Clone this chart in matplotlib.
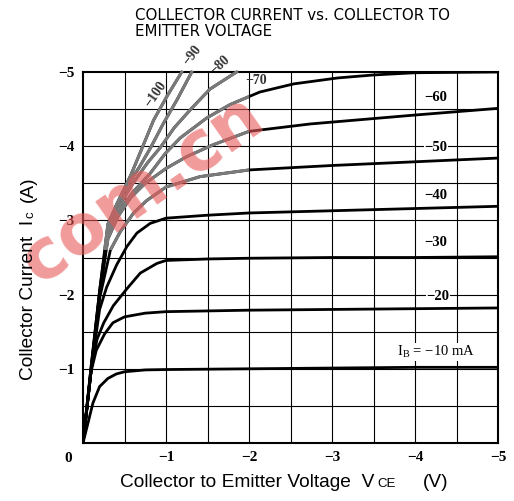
import numpy as np
import matplotlib
matplotlib.use("Agg")
import matplotlib.pyplot as plt
from matplotlib.patches import Rectangle

# curves (V_CE in V, I_C in A), one pair per base current
v10 = [0, -0.06, -0.12, -0.2, -0.3, -0.4, -0.5, -0.75, -1, -2, -3, -4, -5]
i10 = [0, -0.27, -0.54, -0.76, -0.87, -0.93, -0.96, -0.985, -0.99, -1.0, -1.01, -1.02, -1.02]

v20 = [0, -0.05, -0.09, -0.16, -0.26, -0.36, -0.5, -0.75, -1, -2, -3, -4, -5]
i20 = [0, -0.5, -0.93, -1.25, -1.47, -1.62, -1.7, -1.75, -1.77, -1.79, -1.8, -1.81, -1.82]

v30 = [0, -0.1, -0.17, -0.25, -0.365, -0.53, -0.69, -0.89, -1.0, -1.5, -2, -3, -4, -5]
i30 = [0, -1.0, -1.4, -1.62, -1.85, -2.08, -2.29, -2.42, -2.46, -2.48, -2.49, -2.5, -2.5, -2.51]

v40 = [0, -0.1, -0.2, -0.285, -0.405, -0.53, -0.65, -0.81, -1.0, -1.5, -2, -3, -4, -5]
i40 = [0, -1.0, -1.8, -2.1, -2.4, -2.65, -2.83, -2.96, -3.03, -3.07, -3.1, -3.13, -3.16, -3.19]

v50 = [0, -0.1, -0.2, -0.33, -0.45, -0.61, -0.77, -1.0, -1.41, -2, -3, -4, -5]
i50 = [0, -1.0, -1.95, -2.6, -2.85, -3.1, -3.27, -3.45, -3.59, -3.68, -3.74, -3.79, -3.84]

v60 = [0, -0.1, -0.2, -0.3, -0.42, -0.57, -0.75, -1.0, -1.25, -1.57, -2, -2.74, -4, -5]
i60 = [0, -1.0, -2.0, -2.75, -3.05, -3.3, -3.5, -3.7, -3.86, -4.02, -4.2, -4.3, -4.42, -4.51]

v70 = [0, -0.1, -0.2, -0.3, -0.45, -0.6, -0.8, -0.99, -1.17, -1.49, -1.77, -2.13, -2.54, -3.07, -3.5, -4, -5]
i70 = [0, -1.0, -2.0, -2.8, -3.15, -3.38, -3.62, -3.9, -4.11, -4.38, -4.56, -4.73, -4.84, -4.92, -4.96, -4.99, -5.0]

v80 = [0, -0.1, -0.2, -0.3, -0.45, -0.6, -0.78, -0.93, -1.1, -1.3, -1.53, -1.85]
i80 = [0, -1.0, -2.0, -2.85, -3.22, -3.5, -3.78, -3.98, -4.25, -4.5, -4.77, -5.0]

v90 = [0, -0.1, -0.2, -0.3, -0.4, -0.55, -0.68, -0.81, -0.97, -1.13, -1.31]
i90 = [0, -1.05, -2.05, -2.9, -3.2, -3.5, -3.72, -3.97, -4.31, -4.62, -5.0]

v100 = [0, -0.1, -0.2, -0.3, -0.42, -0.58, -0.71, -0.85, -1.01, -1.19]
i100 = [0, -1.05, -2.05, -2.95, -3.25, -3.62, -3.97, -4.35, -4.67, -5.0]

curves = [(v10, i10), (v20, i20), (v30, i30), (v40, i40), (v50, i50),
          (v60, i60), (v70, i70), (v80, i80), (v90, i90), (v100, i100)]

# curve labels: text, V, I
right_labels = ["\u221260", "\u221250", "\u221240", "\u221230", "\u221220"]
right_lab_v = [-4.25, -4.25, -4.25, -4.25, -4.28]
right_lab_i = [-4.65, -3.98, -3.33, -2.70, -1.98]

top_labels = ["\u221270", "\u221280", "\u221290", "\u2212100"]
top_lab_v = [-2.08, -1.65, -1.31, -0.87]
top_lab_i = [-4.88, -5.09, -5.22, -4.70]
top_lab_rot = [0, 42, 52, 55]

xticks = [-1, -2, -3, -4, -5]
yticks = [-1, -2, -3, -4, -5]

W, H = 514, 501
fig = plt.figure(figsize=(W/100, H/100), dpi=100)
ax = fig.add_axes([83/W, 1-443/H, 415/W, 371/H])
r = fig.canvas.get_renderer()

serif = "Liberation Serif"

# grid every 0.5
for g in np.arange(-0.5, -5.0, -0.5):
    ax.axvline(g, color="black", lw=0.8, zorder=1)
    ax.axhline(g, color="black", lw=0.8, zorder=1)

# watermark
ax.text(-0.72, -3.42, "com.cn", color="#e85858", alpha=0.6, fontsize=50,
        fontweight="bold", family="DejaVu Sans", rotation=35,
        ha="center", va="center", zorder=4)

clip = Rectangle((-2.0, -5.3), 2.0, 2.7, transform=ax.transData)
for k, (v, i) in enumerate(curves):
    ax.plot(v, i, color="black", lw=2.0, zorder=3, solid_capstyle="round")
    if k >= 4:
        ln, = ax.plot(v, i, color="#7a7a7a", lw=2.2, zorder=3.5)
        ln.set_clip_path(clip)

bb = dict(facecolor="white", edgecolor="none", pad=0.5)
for t, x, y in zip(right_labels, right_lab_v, right_lab_i):
    ax.text(x, y, t, family=serif, fontweight="bold", fontsize=10.5,
            ha="center", va="center", bbox=bb, zorder=5)
ax.text(-4.25, -1.23, "I$_\\mathregular{B}$ = \u221210 mA",
        family=serif, fontsize=10.5, ha="center", va="center", bbox=bb, zorder=5)

for t, x, y, rot in zip(top_labels, top_lab_v, top_lab_i, top_lab_rot):
    ax.text(x, y, t, family=serif, fontweight="bold", fontsize=10, color="#333333",
            ha="center", va="center", rotation=rot, zorder=5, clip_on=False)

ax.set_xlim(0, -5)
ax.set_ylim(0, -5)
ax.set_xticks(xticks)
ax.set_yticks(yticks)
ax.set_xticklabels(["\u2212%d" % abs(t) for t in xticks], family=serif,
                   fontweight="bold", fontsize=11)
ax.set_yticklabels(["\u2212%d" % abs(t) for t in yticks], family=serif,
                   fontweight="bold", fontsize=11)
ax.tick_params(length=0, pad=6)
ax.annotate("0", xy=(0, 0), xytext=(-15, -15), textcoords="offset pixels",
            family=serif, fontweight="bold", fontsize=11, ha="center", va="center")
for s in ax.spines.values():
    s.set_linewidth(1.5)

# title, two lines
tt = dict(family="DejaVu Sans", fontsize=10.8, ha="left", va="baseline")
fig.text(135/W, 1-20/H, "COLLECTOR CURRENT vs. COLLECTOR TO", **tt)
fig.text(135/W, 1-36/H, "EMITTER VOLTAGE", **tt)


# axis labels, chained pieces so the small subscripts sit on the baseline
def chain(x, y, parts, rot):
    for txt, size, gap in parts:
        t = fig.text(x/W, 1-y/H, txt, family="Liberation Sans", fontsize=size,
                     rotation=rot, rotation_mode="anchor", ha="left", va="baseline")
        e = t.get_window_extent(r)
        if rot == 0:
            x = e.x1 + gap
        else:
            y = H - e.y1 - gap


chain(120, 487, [("Collector to Emitter Voltage  V", 13.8, 3),
                 ("CE", 9.5, 27), ("(V)", 13.8, 0)], 0)
chain(33, 380, [("Collector Current  I", 13.8, 2),
                ("c", 9.5, 9), ("(A)", 13.8, 0)], 90)

fig.savefig("out.png", dpi=100)
